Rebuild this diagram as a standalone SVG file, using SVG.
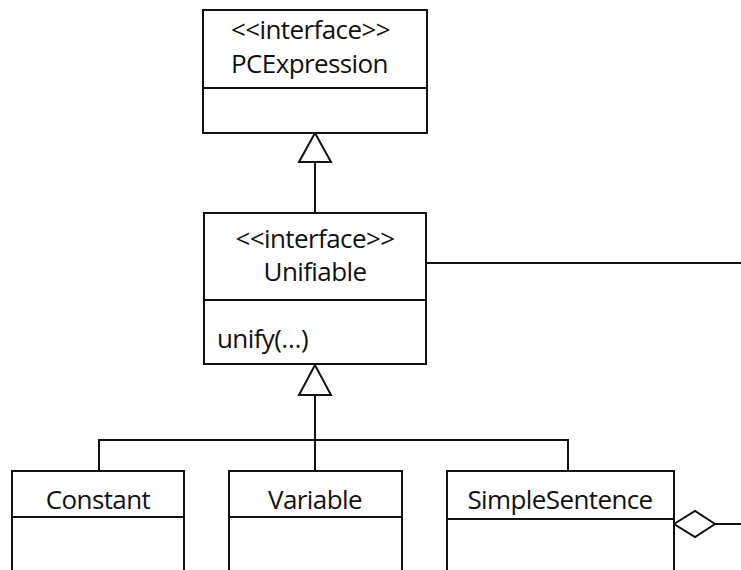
<svg xmlns="http://www.w3.org/2000/svg" width="741" height="570" viewBox="0 0 741 570">
<style>
.box{fill:#fff;stroke:#111;stroke-width:2}
.ln{fill:none;stroke:#111;stroke-width:2}
.tri{fill:#fff;stroke:#111;stroke-width:2;stroke-linejoin:miter}
text{font-family:"Open Sans","Noto Sans",sans-serif;font-size:26px;letter-spacing:-0.6px;fill:#111}
.c{text-anchor:middle}
</style>
<rect width="741" height="570" fill="#fff"/>
<g id="connectors">
<line class="ln" x1="315" y1="162" x2="315" y2="213"/>
<line class="ln" x1="427" y1="263" x2="741" y2="263"/>
<line class="ln" x1="315" y1="395" x2="315" y2="471"/>
<polyline class="ln" points="99,471 99,440 568,440 568,471"/>
<line class="ln" x1="715" y1="524" x2="741" y2="524"/>
<polygon class="tri" points="315,133 299,162 331,162"/>
<polygon class="tri" points="315,365 299,395 331,395"/>
<polygon class="tri" points="674,524 695,511 715,524 695,537"/>
</g>
<g id="PCExpression">
<rect class="box" x="203" y="10" width="224" height="123"/>
<line class="ln" x1="203" y1="88" x2="427" y2="88"/>
<text x="231" y="39">&lt;&lt;interface&gt;&gt;</text>
<text x="231" y="73">PCExpression</text>
</g>
<g id="Unifiable">
<rect class="box" x="204" y="213" width="222" height="151"/>
<line class="ln" x1="204" y1="300" x2="426" y2="300"/>
<text class="c" x="315" y="248">&lt;&lt;interface&gt;&gt;</text>
<text class="c" x="315" y="281">Unifiable</text>
<text x="217" y="348">unify(…)</text>
</g>
<g id="Constant">
<rect class="box" x="12" y="471" width="172" height="110"/>
<line class="ln" x1="12" y1="517" x2="184" y2="517"/>
<text class="c" x="98" y="509">Constant</text>
</g>
<g id="Variable">
<rect class="box" x="229" y="471" width="173" height="110"/>
<line class="ln" x1="229" y1="517" x2="402" y2="517"/>
<text class="c" x="315" y="509">Variable</text>
</g>
<g id="SimpleSentence">
<rect class="box" x="447" y="471" width="227" height="110"/>
<line class="ln" x1="447" y1="519" x2="674" y2="519"/>
<text class="c" x="560" y="509">SimpleSentence</text>
</g>
</svg>
